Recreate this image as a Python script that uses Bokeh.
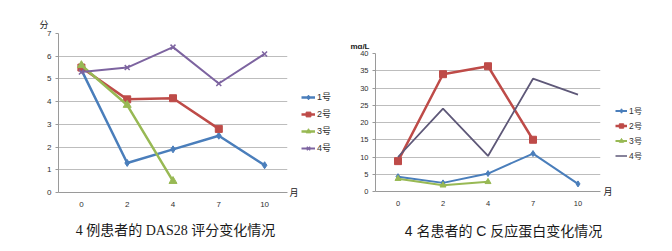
from bokeh.plotting import figure
from bokeh.models import FactorRange, FixedTicker, Label, LinearAxis
from bokeh.layouts import row, column
from bokeh.embed import file_html
from bokeh.resources import INLINE

months = ["0", "2", "4", "7", "10"]
series_names = ["1号", "2号", "3号", "4号"]

das_1 = [5.4, 1.3, 1.9, 2.5, 1.2]
das_2 = [5.5, 4.1, 4.15, 2.8]
das_3 = [5.6, 3.85, 0.5]
das_4 = [5.3, 5.5, 6.4, 4.8, 6.1]

crp_1 = [4.3, 2.5, 5.2, 11.0, 2.2]
crp_2 = [8.8, 34.0, 36.3, 15.0]
crp_3 = [3.7, 1.8, 2.8]
crp_4 = [10.0, 24.0, 10.3, 32.7, 28.1]

das_ticks = [0, 1, 2, 3, 4, 5, 6, 7]
crp_ticks = [0, 5, 10, 15, 20, 25, 30, 35, 40]

left_caption = "4 例患者的 DAS28 评分变化情况"
right_caption = "4 名患者的 C 反应蛋白变化情况"

TICK_FONT = "Liberation Sans"
CJK_FONT = "'Liberation Sans', 'Noto Sans CJK SC'"
GRID = "#BDBDBD"
markers = ["diamond", "square", "triangle", "x"]
left_colors = ["#4A7EBB", "#BE4B48", "#98B954", "#7D64A0"]
right_colors = ["#4A7EBB", "#BE4B48", "#98B954", "#5E5878"]

H_MAIN = 215     # height of chart rows (captions below)
H_CAP = 251 - H_MAIN


def no_align(f):
    if "frame_align" in f.properties():
        f.frame_align = False
    return f


def plain(f):
    f.outline_line_color = None
    f.grid.visible = False
    f.background_fill_color = "white"
    f.border_fill_color = "white"
    return no_align(f)


def text_fig(w, h):
    f = figure(width=w, height=h, x_range=(0, 1), y_range=(0, 1),
               x_axis_type=None, y_axis_type=None, output_backend="svg",
               toolbar_location=None, min_border=0)
    return plain(f)


def draw_series(p, series, colors, msizes, lw, legend=False):
    for i, vals in enumerate(series):
        xs = months[:len(vals)]
        kw = dict(legend_label=series_names[i]) if legend else {}
        p.line(xs, vals, line_color=colors[i], line_width=lw[i], **kw)
        if msizes[i] > 0:
            p.scatter(xs, vals, marker=markers[i], size=msizes[i],
                      fill_color=colors[i], line_color=colors[i],
                      line_width=1.5 if markers[i] == "x" else 1, **kw)


def chart(series, colors, ymax, ticks, w, h, left, top, right, bottom, msizes, lw,
          tick_fs, month_standoff):
    p = figure(width=w, height=h, x_range=FactorRange(factors=months),
               y_range=(0, ymax), output_backend="svg", toolbar_location=None,
               min_border_left=left, min_border_top=top,
               min_border_right=right, min_border_bottom=bottom)
    no_align(p)
    p.outline_line_color = None
    p.background_fill_color = "white"
    p.border_fill_color = "white"
    p.xgrid.grid_line_color = None
    p.ygrid.grid_line_color = GRID
    p.ygrid.grid_line_width = 1
    p.yaxis.ticker = FixedTicker(ticks=ticks)
    p.yaxis.minor_tick_line_color = None
    for ax in (p.xaxis[0], p.yaxis[0]):
        ax.axis_line_color = "#9A9A9A"
        ax.major_tick_line_color = "#9A9A9A"
        ax.major_tick_out = 3
        ax.major_tick_in = 0
        ax.major_label_text_font = TICK_FONT
        ax.major_label_text_font_size = tick_fs
        ax.major_label_text_color = "#303030"
    p.xaxis.major_tick_line_color = None
    p.xaxis.major_label_standoff = 6
    p.yaxis.major_label_standoff = 4
    # "月" unit at the right end of the category axis
    month_axis = LinearAxis(ticker=FixedTicker(ticks=[0]), major_label_overrides={0: "月"},
                            axis_line_color=None, major_tick_line_color=None,
                            minor_tick_line_color=None, major_tick_out=0, major_tick_in=0,
                            major_label_standoff=month_standoff,
                            major_label_text_font=CJK_FONT, major_label_text_font_size="9px",
                            major_label_text_color="#202020")
    p.add_layout(month_axis, "right")
    draw_series(p, series, colors, msizes, lw)
    return p


def side(series, colors, w, h, top, bottom, lw, msizes, legend_loc, legend_h, legend_sp,
         glyph_w, leg_fs):
    # legend panel: the same series are drawn here outside the visible range,
    # so only their legend entries show
    s = figure(width=w, height=h, x_range=FactorRange(factors=months), y_range=(-3, -2),
               x_axis_type=None, y_axis_type=None, output_backend="svg",
               toolbar_location=None, min_border_left=0, min_border_right=0,
               min_border_top=top, min_border_bottom=bottom)
    plain(s)
    draw_series(s, series, colors, msizes, lw, legend=True)
    lg = s.legend[0]
    lg.location = legend_loc
    lg.margin = 0
    lg.padding = 0
    lg.border_line_color = None
    lg.background_fill_alpha = 0
    lg.glyph_width = glyph_w
    lg.glyph_height = legend_h
    lg.label_height = legend_h
    lg.spacing = legend_sp
    lg.label_standoff = 2
    lg.label_text_font = CJK_FONT
    lg.label_text_font_size = leg_fs
    lg.label_text_color = "#303030"
    return s


# ---- left half (x 0..336) ----
TOP_L = 29
strip_l = text_fig(336, TOP_L)
strip_l.add_layout(Label(x=39, y=0, x_units="screen", y_units="screen", text="分",
                         text_font=CJK_FONT, text_font_size="9px", text_color="#202020",
                         text_baseline="bottom", text_align="left"))
W1 = 301
p1 = chart([das_1, das_2, das_3, das_4], left_colors, 7, das_ticks,
           w=W1, h=H_MAIN - TOP_L, left=58, top=33 - TOP_L, right=W1 - 290,
           bottom=H_MAIN - 192, msizes=[7, 7, 8, 7], lw=[2.5, 2.5, 2.5, 2], tick_fs="8px",
           month_standoff=2)
s1 = side([das_1, das_2, das_3, das_4], left_colors, 336 - W1, H_MAIN - TOP_L,
          top=33 - TOP_L, bottom=H_MAIN - 192, lw=[2.5, 2.5, 2.5, 2], msizes=[7, 7, 8, 7],
          legend_loc=(0, 192 - 154), legend_h=12, legend_sp=4, glyph_w=14, leg_fs="9px")
left_half = column(strip_l, row(p1, s1))

# ---- right half (x 336..672) ----
TOP_R = 49
strip_r = text_fig(336, TOP_R)
strip_r.add_layout(Label(x=33, y=3.5, x_units="screen", y_units="screen", text="mg/L",
                         text_font=TICK_FONT, text_font_size="8px", text_font_style="bold",
                         text_color="#202020", text_baseline="alphabetic", text_align="right"))
W2 = 279
p2 = chart([crp_1, crp_2, crp_3, crp_4], right_colors, 40, crp_ticks,
           w=W2, h=H_MAIN - TOP_R, left=39, top=53 - TOP_R, right=W2 - 267,
           bottom=H_MAIN - 191, msizes=[6, 7, 6, 0], lw=[2, 2.5, 2, 1.8], tick_fs="7.5px",
           month_standoff=3)
s2 = side([crp_1, crp_2, crp_3, crp_4], right_colors, 336 - W2, H_MAIN - TOP_R,
          top=53 - TOP_R, bottom=H_MAIN - 191, lw=[2, 2.5, 2, 1.5], msizes=[6, 7, 6, 0],
          legend_loc=(0, 191 - 161), legend_h=11, legend_sp=3, glyph_w=12, leg_fs="8.5px")
right_half = column(strip_r, row(p2, s2))

# ---- captions ----
cap = text_fig(672, H_CAP)
cap.add_layout(Label(x=175, y=251 - 230, x_units="screen", y_units="screen", text=left_caption,
                     text_font="'Liberation Serif', 'Noto Sans CJK SC'", text_font_size="14px",
                     text_color="#1A1A1A", text_baseline="middle", text_align="center"))
cap.add_layout(Label(x=503, y=251 - 230, x_units="screen", y_units="screen", text=right_caption,
                     text_font=CJK_FONT, text_font_size="14px",
                     text_color="#1A1A1A", text_baseline="middle", text_align="center"))

layout = column(row(left_half, right_half), cap)
open("out.html", "w").write(file_html(layout, INLINE))
